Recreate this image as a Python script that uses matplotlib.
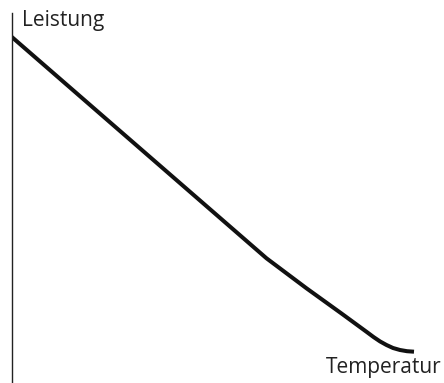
import matplotlib
matplotlib.use("Agg")
import matplotlib.pyplot as plt

# Data (arbitrary units)
temperatur = [0, 255, 295, 330, 355, 362, 368.5, 375, 381.5, 388.5, 395.5, 402.5]
leistung = [346.3, 124.7, 94.7, 69.5, 51.2, 46.0, 41.6, 38.0, 35.0, 33.0, 31.8, 31.3]

fig = plt.figure(figsize=(4.44, 3.83), dpi=100)
ax = fig.add_axes([11.5 / 444, 0, 432.5 / 444, 370 / 383])
ax.plot(temperatur, leistung, color="#111111", lw=2.9, solid_capstyle="butt", solid_joinstyle="round")
ax.set_xlim(0, 432.5)
ax.set_ylim(0, 370)
for s in ["top", "right", "bottom"]:
    ax.spines[s].set_visible(False)
ax.spines["left"].set_linewidth(1.0)
ax.spines["left"].set_color("#222222")
ax.set_xticks([])
ax.set_yticks([])
ax.patch.set_alpha(0)

fig.text(22 / 444, 1 - 26 / 383, "Leistung", fontsize=15, family="Open Sans", color="#222222", va="baseline", ha="left")
fig.text(441 / 444, 1 - 373 / 383, "Temperatur", fontsize=15, family="Open Sans", color="#222222", va="baseline", ha="right")

fig.savefig("out.png", dpi=100)
